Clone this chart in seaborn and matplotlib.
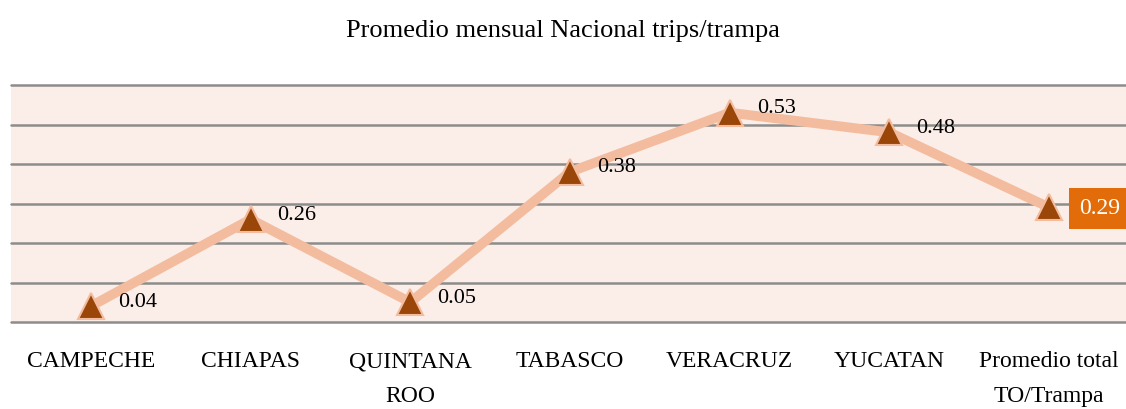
import matplotlib
matplotlib.use("Agg")
import matplotlib.pyplot as plt
import seaborn as sns
import pandas as pd

# Data
categories = ["CAMPECHE", "CHIAPAS", "QUINTANA\nROO", "TABASCO",
              "VERACRUZ", "YUCATAN", "Promedio total\nTO/Trampa"]
values = [0.04, 0.26, 0.05, 0.38, 0.53, 0.48, 0.29]
y_ticks = [0.0, 0.1, 0.2, 0.3, 0.4, 0.5, 0.6]

LINE = "#F4BC9F"
MARKER = "#9A4608"
HIGHLIGHT = "#E36C0A"
BG = "#FBEEE8"
GRID = "#8C8C8C"

sns.set_style("white")
plt.rcParams["font.family"] = ["Liberation Serif", "DejaVu Serif"]
plt.rcParams["text.color"] = "black"
plt.rcParams["xtick.color"] = "black"

df = pd.DataFrame({"estado": categories, "valor": values})
df["pos"] = range(len(df))

fig = plt.figure(figsize=(11.26, 4.09), dpi=100)
ax = fig.add_axes([11 / 1126, 1 - 322 / 409, 1118 / 1126, 237 / 409])
ax.set_facecolor(BG)

# horizontal gridlines, not clipped so the outer ones keep full width
for t in y_ticks:
    ax.axhline(t, color=GRID, linewidth=1.8, clip_on=False, zorder=1)

sns.lineplot(data=df, x="pos", y="valor", ax=ax, color=LINE, linewidth=7,
             marker="^", markersize=19, markerfacecolor=MARKER,
             markeredgecolor=LINE, markeredgewidth=1.5, zorder=3)

for i, (x, v) in enumerate(zip(df["pos"], df["valor"])):
    if i == len(df) - 1:
        ax.annotate(f"{v:.2f}", (x, v), xytext=(50, -1), textcoords="offset pixels",
                    ha="center", va="center", fontsize=17, color="white",
                    bbox=dict(boxstyle="square,pad=0.42", fc=HIGHLIGHT, ec="none"),
                    zorder=5)
    else:
        ax.annotate(f"{v:.2f}", (x, v), xytext=(27, 4), textcoords="offset pixels",
                    ha="left", va="center", fontsize=16, color="black", zorder=5)

ax.set_xlim(-0.5, len(categories) - 0.5)
ax.set_ylim(0, 0.6)
ax.set_yticks(y_ticks)
ax.set_yticklabels([])
ax.set_xticks(df["pos"])
ax.set_xticklabels(categories, fontsize=17, linespacing=1.85)
ax.tick_params(axis="x", length=0, pad=21)
ax.tick_params(axis="y", length=0)
ax.grid(False)
ax.set_xlabel("")
ax.set_ylabel("")
sns.despine(ax=ax, left=True, bottom=True, top=True, right=True)

fig.suptitle("Promedio mensual Nacional trips/trampa", fontsize=19, y=0.95)

fig.savefig("out.png", dpi=100)
plt.close(fig)
